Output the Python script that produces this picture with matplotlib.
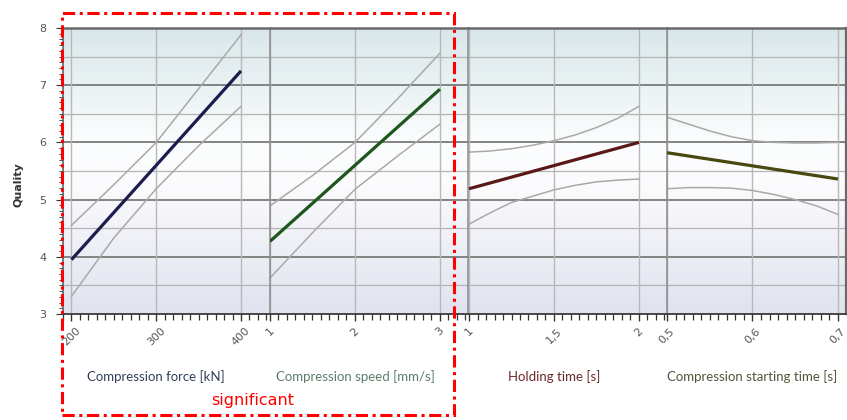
import numpy as np
import matplotlib.pyplot as plt
import matplotlib.patches as patches
from matplotlib.colors import LinearSegmentedColormap
from matplotlib.ticker import MultipleLocator, FixedLocator

# datos
fuerza_x = [200, 400]
fuerza_y = [3.95, 7.25]
fuerza_ci_x = [200, 250, 300, 350, 400]
fuerza_sup = [4.55, 5.26, 6.00, 6.94, 7.88]
fuerza_inf = [3.31, 4.33, 5.19, 5.94, 6.63]

velocidad_x = [1, 3]
velocidad_y = [4.27, 6.93]
velocidad_ci_x = [1, 1.5, 2, 2.5, 3]
velocidad_sup = [4.89, 5.42, 6.00, 6.76, 7.56]
velocidad_inf = [3.63, 4.42, 5.18, 5.76, 6.32]

tiempo_x = [1, 2]
tiempo_y = [5.19, 6.00]
tiempo_ci_x = [1, 1.125, 1.25, 1.375, 1.5, 1.625, 1.75, 1.875, 2]
tiempo_sup = [5.83, 5.85, 5.89, 5.95, 6.03, 6.13, 6.26, 6.42, 6.63]
tiempo_inf = [4.57, 4.77, 4.95, 5.06, 5.17, 5.25, 5.31, 5.34, 5.36]

inicio_x = [0.5, 0.7]
inicio_y = [5.82, 5.36]
inicio_ci_x = [0.5, 0.525, 0.55, 0.575, 0.6, 0.625, 0.65, 0.675, 0.7]
inicio_sup = [6.44, 6.32, 6.20, 6.10, 6.03, 6.00, 5.99, 5.99, 6.00]
inicio_inf = [5.19, 5.21, 5.21, 5.20, 5.16, 5.09, 5.00, 4.89, 4.74]

ticks = [[200, 300, 400], [1, 2, 3], [1, 1.5, 2], [0.5, 0.6, 0.7]]
etiquetas = [['200', '300', '400'], ['1', '2', '3'], ['1', '1,5', '2'],
             ['0,5', '0,6', '0,7']]
menores = [10, 0.1, 0.05, 0.01]
titulos = ['Compression force [kN]', 'Compression speed [mm/s]',
           'Holding time [s]', 'Compression starting time [s]']
colores_titulo = ['#34405a', '#5b7d6a', '#6a2a2a', '#56543a']
colores = ['#1c1c4e', '#1d571d', '#5a1818', '#484810']
limites = [(190.0, 434.2), (1.0, 3.33), (0.994, 2.165), (0.5, 0.7094)]

series = [(fuerza_x, fuerza_y, fuerza_ci_x, fuerza_sup, fuerza_inf),
          (velocidad_x, velocidad_y, velocidad_ci_x, velocidad_sup, velocidad_inf),
          (tiempo_x, tiempo_y, tiempo_ci_x, tiempo_sup, tiempo_inf),
          (inicio_x, inicio_y, inicio_ci_x, inicio_sup, inicio_inf)]

W, H = 847, 420
bordes = [63, 270, 468, 667, 846]
arriba, abajo = 28, 314

fondo = LinearSegmentedColormap.from_list(
    'fondo', [(0, '#e0e3ef'), (0.45, '#fbfbfd'), (0.6, '#fbfdfd'), (1, '#d9e7ea')])
gradiente = np.linspace(0, 1, 256).reshape(-1, 1)

fig = plt.figure(figsize=(8.47, 4.2), dpi=100)

for i in range(4):
    ax = fig.add_axes([bordes[i] / W, (H - abajo) / H,
                       (bordes[i + 1] - bordes[i]) / W, (abajo - arriba) / H])
    x0, x1 = limites[i]
    ax.imshow(gradiente, cmap=fondo, origin='lower', aspect='auto',
              extent=[x0, x1, 3, 8], zorder=0)
    ax.set_xlim(x0, x1)
    ax.set_ylim(3, 8)

    # grilla
    for y in [3.5, 4.5, 5.5, 6.5, 7.5]:
        ax.axhline(y, color='#b4b4b4', lw=0.9, zorder=1)
    for y in [4, 5, 6, 7]:
        ax.axhline(y, color='#7a7a7a', lw=1.3, zorder=1)
    for t in ticks[i]:
        ax.axvline(t, color='#b8b8b8', lw=1.0, zorder=1)

    xs, ys, cx, sup, inf = series[i]
    ax.plot(cx, sup, color='#a9a9a9', lw=1.1, zorder=2)
    ax.plot(cx, inf, color='#a9a9a9', lw=1.1, zorder=2)
    ax.plot(xs, ys, color=colores[i], lw=2.3, solid_capstyle='butt', zorder=3)

    ax.xaxis.set_major_locator(FixedLocator(ticks[i]))
    ax.set_xticklabels(etiquetas[i], rotation=45, ha='center', fontsize=8,
                       color='#555555')
    ax.xaxis.set_minor_locator(MultipleLocator(menores[i]))
    ax.tick_params(axis='x', which='major', length=5, width=1, color='#333333')
    ax.tick_params(axis='x', which='minor', length=4, width=0.9, color='#333333')

    if i == 0:
        ax.yaxis.set_major_locator(MultipleLocator(1))
        ax.yaxis.set_minor_locator(MultipleLocator(0.1))
        ax.tick_params(axis='y', which='major', length=5, color='#333333',
                       labelsize=8, labelcolor='#555555', pad=7)
        ax.tick_params(axis='y', which='minor', length=3, color='#333333')
        ax.spines['left'].set_color('#555555')
    else:
        ax.tick_params(axis='y', which='both', left=False, labelleft=False)
        ax.spines['left'].set_color('#8a8a8a')
    ax.spines['left'].set_linewidth(1.1)
    ax.spines['top'].set_color('#6a6a6a')
    ax.spines['top'].set_linewidth(1.8)
    ax.spines['bottom'].set_color('#3a3a3a')
    ax.spines['bottom'].set_linewidth(1.3)
    ax.spines['right'].set_visible(i == 3)
    ax.spines['right'].set_color('#6a6a6a')
    ax.spines['right'].set_linewidth(1.6)

    centro = (ticks[i][0] + ticks[i][-1]) / 2
    ax.text(centro, -0.22, titulos[i], transform=ax.get_xaxis_transform(),
            ha='center', va='center', fontsize=9.5, family='Lato',
            color=colores_titulo[i], clip_on=False)

fig.text(18 / W, (H - 185) / H, 'Quality', rotation=90, ha='center',
         va='center', fontsize=8, fontweight='bold', color='#333333')

# recuadro rojo de lo significativo
rect = patches.Rectangle((62 / W, (H - 415) / H), (454 - 62) / W, (415 - 13) / H,
                         transform=fig.transFigure, fill=False, ec='#ff0000',
                         lw=2.2, ls=(0, (4, 1.5, 1, 1.5)), clip_on=False)
fig.patches.append(rect)
fig.text(253 / W, (H - 400) / H, 'significant', ha='center', va='center',
         fontsize=11.5, color='#ff0000')

plt.savefig('out.png', dpi=100)
